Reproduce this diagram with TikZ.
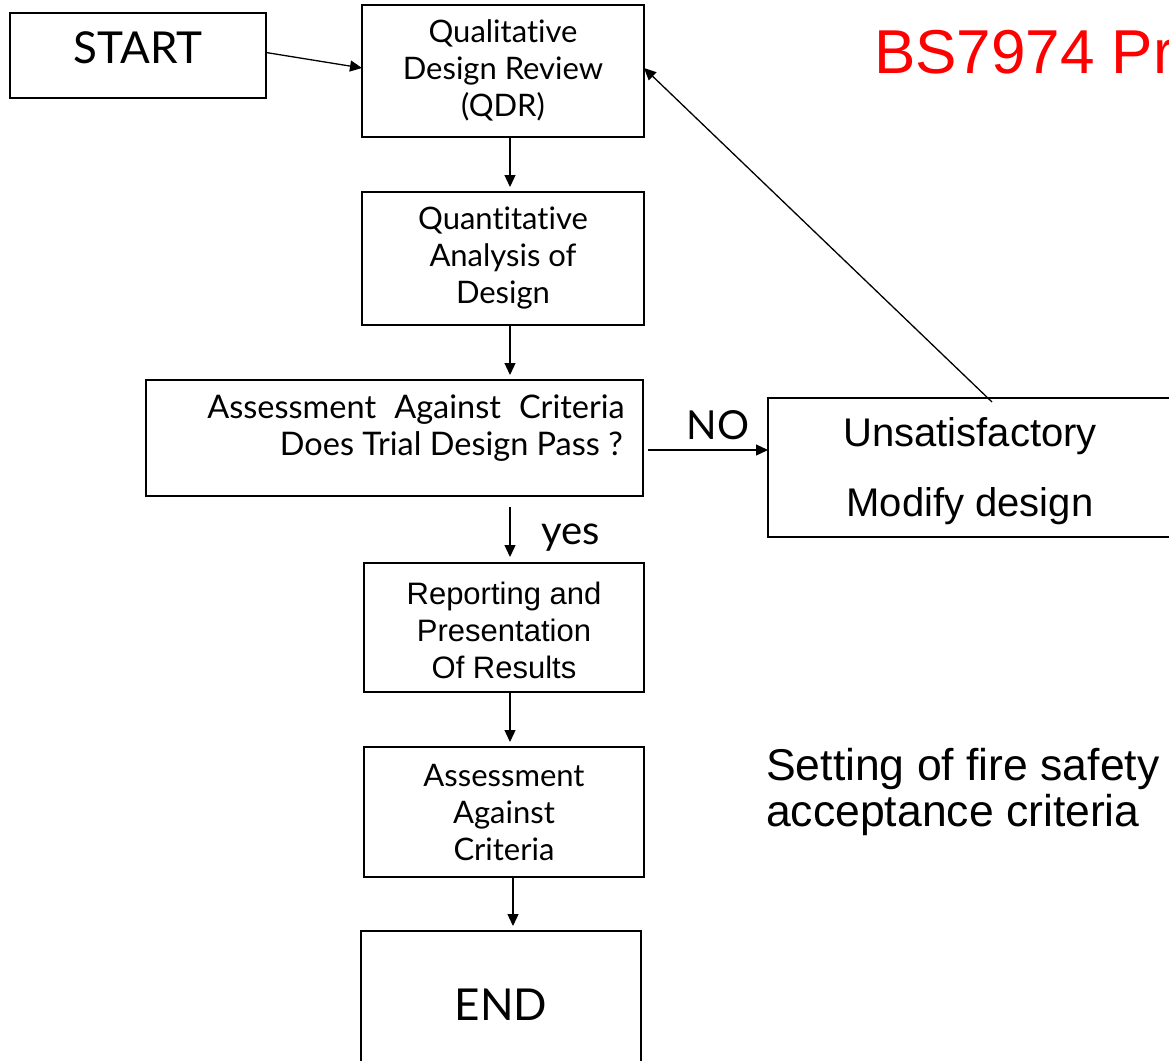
\documentclass[tikz,border=0pt]{standalone}
\usepackage{fontspec}
\setmainfont{Liberation Sans}
\newfontfamily\avfont[Ligatures=NoCommon]{Lato}
\usetikzlibrary{arrows.meta}
\tikzset{
  box/.style={draw, line width=1.3pt, inner sep=0pt, outer sep=0pt},
  avtext/.style={font=\avfont\fontsize{31}{37}\selectfont, align=center, inner sep=0pt},
  artext/.style={font=\fontsize{31}{37}\selectfont, align=center, inner sep=0pt},
  arr/.style={line width=1.3pt, -{Triangle[length=12pt,width=11pt]}},
}
\begin{document}
\begin{tikzpicture}[x=1pt,y=-1pt]
\useasboundingbox (0,0) rectangle (1169,1060);
\clip (0,0) rectangle (1169,1060);
% boxes
\node[box, minimum width=256pt, minimum height=85pt] (start) at (138,55.5) {};
\node[box, minimum width=282pt, minimum height=132pt] (qdr) at (503,71) {};
\node[box, minimum width=282pt, minimum height=133pt] (quant) at (503,258.5) {};
\node[box, minimum width=497pt, minimum height=116pt] (assess) at (394.5,438) {};
\node[box, minimum width=432pt, minimum height=139pt] (unsat) at (984,467.5) {};
\node[box, minimum width=280pt, minimum height=129pt] (report) at (504,627.5) {};
\node[box, minimum width=280pt, minimum height=130pt] (crit) at (504,812) {};
\node[box, minimum width=280pt, minimum height=169pt] (end) at (501,1015.5) {};
% texts
\node[avtext, font=\avfont\fontsize{44}{44}\selectfont] (tstart) at (138,48) {START};
\node[avtext] (tqdr) at (503,70) {Qualitative\\Design Review\\(QDR)};
\node[avtext] (tquant) at (503,258) {Quantitative\\Analysis of\\Design};
\node[avtext, font=\avfont\fontsize{32.5}{37}\selectfont, align=right, anchor=base east] (tass1) at (625,418) {Assessment\hspace{0.3em} Against\hspace{0.3em} Criteria};
\node[avtext, font=\avfont\fontsize{32.5}{37}\selectfont, align=right, anchor=base east] (tass2) at (623,455) {Does Trial Design Pass ?};
\node[artext, font=\fontsize{40}{40}\selectfont] (tun1) at (970,436) {Unsatisfactory};
\node[artext, font=\fontsize{40}{40}\selectfont] (tun2) at (970,506) {Modify design};
\node[artext] (treport) at (504,630) {Reporting and\\Presentation\\Of Results};
\node[avtext] (tcrit) at (504,813) {Assessment\\Against\\Criteria};
\node[avtext, font=\avfont\fontsize{44}{44}\selectfont] (tend) at (501,1005) {END};
\node[artext, font=\fontsize{44.5}{46}\selectfont, align=left, anchor=north west] (tset) at (766,748) {Setting of fire safety\\acceptance criteria};
\node[font=\fontsize{62}{62}\selectfont, text=red, anchor=base west, inner sep=0pt] (title) at (874,73) {BS7974 Pr};
% connectors
\coordinate (ytop) at (510,0);
\coordinate (noa) at ([yshift=-12pt]assess.east);
\draw[arr] ([yshift=3pt]start.east) -- ([yshift=3pt]qdr.west);
\draw[arr, shorten >=5pt] ([xshift=7pt]qdr.south) -- ([xshift=7pt]quant.north);
\draw[arr, shorten >=5pt] ([xshift=7pt]quant.south) -- ([xshift=7pt]quant.south |- assess.north);
\draw[arr, shorten <=5pt] (noa) -- (unsat.west |- noa)
  node[pos=0.6, above=10pt, font=\avfont\fontsize{40}{40}\selectfont, inner sep=0pt] (lno) {NO};
\draw[arr] ([xshift=8pt,yshift=-4pt]unsat.north) -- ([yshift=3pt]qdr.east);
\draw[arr, shorten <=11pt, shorten >=6pt] (assess.south -| ytop) -- (report.north -| ytop)
  node[midway, right=31pt, yshift=-8pt, font=\avfont\fontsize{40}{40}\selectfont, inner sep=0pt] (lyes) {yes};
\draw[arr, shorten >=5pt] (report.south -| ytop) -- (crit.north -| ytop);
\draw[arr, shorten >=5pt] ([xshift=9pt]crit.south) -- ([xshift=9pt]crit.south |- end.north);
\end{tikzpicture}
\end{document}
